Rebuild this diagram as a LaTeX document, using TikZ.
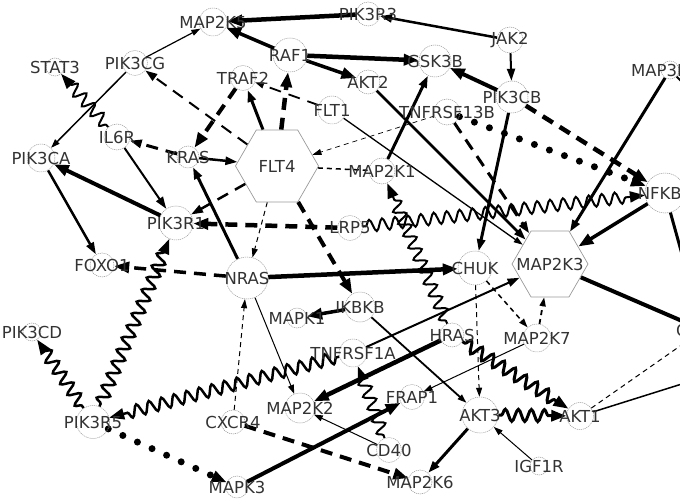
\documentclass[tikz,border=0pt]{standalone}
\usepackage{fontspec}
\setmainfont{DejaVu Sans}
\usetikzlibrary{arrows.meta,shapes.geometric,decorations.pathmorphing,backgrounds}
\begin{document}
\begin{tikzpicture}[x=1pt,y=-1pt,
  gn/.style={circle, draw=black!40, dash pattern=on 1.2pt off 0.8pt, line width=0.5pt, inner sep=0pt, minimum size=#1},
  hx/.style={regular polygon, regular polygon sides=6, draw=black!40, line width=0.7pt, inner sep=0pt, minimum size=#1},
  lbl/.style={text=black!80, font=\fontsize{16.5}{18}\selectfont, inner sep=0pt},
  w/.style={line width=#1},
  ta/.style={-{Triangle[length=9pt,width=6pt]}},
  tb/.style={-{Triangle[length=12pt,width=8pt]}},
  tc/.style={-{Triangle[length=15pt,width=11pt]}},
  dsh/.style={dash pattern=on 12pt off 8pt},
  dshs/.style={dash pattern=on 5pt off 4pt},
  bigdots/.style={line cap=round, dash pattern=on 0pt off 16pt},
  snk/.style={decorate, decoration={snake, amplitude=6pt, segment length=13pt, pre length=3pt, post length=13pt}}
]
\useasboundingbox (0,0) rectangle (680,500);

\node[gn=28pt, label={[lbl]center:MAP2K5}] (MAP2K5) at (213,22) {};
\node[gn=24pt, label={[lbl]center:PIK3R3}] (PIK3R3) at (368,14) {};
\node[gn=26pt, label={[lbl]center:JAK2}] (JAK2) at (510,40) {};
\node[gn=34pt, label={[lbl]center:RAF1}] (RAF1) at (290,55) {};
\node[gn=32pt, label={[lbl]center:GSK3B}] (GSK3B) at (435,61) {};
\node[gn=24pt, label={[lbl]center:AKT2}] (AKT2) at (368,82) {};
\node[gn=32pt, label={[lbl]center:PIK3CB}] (PIK3CB) at (512,97) {};
\node[gn=26pt, label={[lbl]center:TNFRSF13B}] (TNFRSF13B) at (447,112) {};
\node[gn=18pt, label={[lbl]center:MAP3K14}] (MAP3K14) at (670,70) {};
\node[gn=18pt, label={[lbl]center:STAT3}] (STAT3) at (55,67) {};
\node[gn=25pt, label={[lbl]center:PIK3CG}] (PIK3CG) at (135,63) {};
\node[gn=25pt, label={[lbl]center:TRAF2}] (TRAF2) at (243,78) {};
\node[gn=28pt, label={[lbl]center:FLT1}] (FLT1) at (332,110) {};
\node[gn=26pt, label={[lbl]center:IL6R}] (IL6R) at (117,137) {};
\node[gn=28pt, label={[lbl]center:PIK3CA}] (PIK3CA) at (41,158) {};
\node[gn=22pt, label={[lbl]center:KRAS}] (KRAS) at (188,157) {};
\node[hx=83pt, label={[lbl]center:FLT4}] (FLT4) at (277,166) {};
\node[gn=26pt, label={[lbl]center:MAP2K1}] (MAP2K1) at (382,171) {};
\node[gn=40pt, label={[lbl]center:NFKB1}] (NFKB1) at (665,193) {};
\node[gn=34pt, label={[lbl]center:PIK3R1}] (PIK3R1) at (176,223) {};
\node[gn=25pt, label={[lbl]center:LRP5}] (LRP5) at (350,228) {};
\node[hx=76pt, label={[lbl]center:MAP2K3}] (MAP2K3) at (550,264) {};
\node[gn=24pt, label={[lbl]center:FOXO1}] (FOXO1) at (102,265) {};
\node[gn=42pt, label={[lbl]center:NRAS}] (NRAS) at (247,278) {};
\node[gn=34pt, label={[lbl]center:CHUK}] (CHUK) at (475,268) {};
\node[gn=30pt, label={[lbl]center:IKBKB}] (IKBKB) at (360,307) {};
\node[gn=20pt, label={[lbl]center:MAPK1}] (MAPK1) at (297,318) {};
\node[gn=18pt, label={[lbl]center:PIK3CD}] (PIK3CD) at (32,332) {};
\node[gn=24pt, label={[lbl]center:HRAS}] (HRAS) at (452,335) {};
\node[gn=28pt, label={[lbl]center:MAP2K7}] (MAP2K7) at (537,338) {};
\node[gn=28pt, label={[lbl]center:TNFRSF1A}] (TNFRSF1A) at (353,353) {};
\node[gn=30pt, label={[lbl]center:MAP2K2}] (MAP2K2) at (300,408) {};
\node[gn=25pt, label={[lbl]center:FRAP1}] (FRAP1) at (412,397) {};
\node[gn=36pt, label={[lbl]center:AKT3}] (AKT3) at (480,415) {};
\node[gn=27pt, label={[lbl]center:AKT1}] (AKT1) at (580,416) {};
\node[gn=33pt, label={[lbl]center:PIK3R5}] (PIK3R5) at (93,422) {};
\node[gn=24pt, label={[lbl]center:CXCR4}] (CXCR4) at (233,422) {};
\node[gn=25pt, label={[lbl]center:CD40}] (CD40) at (389,450) {};
\node[gn=18pt, label={[lbl]center:IGF1R}] (IGF1R) at (539,466) {};
\node[gn=24pt, label={[lbl]center:MAP2K6}] (MAP2K6) at (420,482) {};
\node[gn=22pt, label={[lbl]center:MAPK3}] (MAPK3) at (237,487) {};
\node[gn=30pt, label={[lbl]center:CASP9}] (CASP9) at (703,330) {};
\coordinate (offA) at (700,100);
\coordinate (offB) at (720,372);

\begin{pgfonlayer}{background}
\draw[w=4.5pt, tc] (PIK3R3) -- (MAP2K5);
\draw[w=2.5pt, tb] (JAK2) -- (PIK3R3);
\draw[w=2pt, tb] (JAK2) -- (PIK3CB);
\draw[w=3.5pt, tc] (RAF1) -- (MAP2K5);
\draw[w=4.5pt, tc] (RAF1) -- (GSK3B);
\draw[w=3.5pt, tc] (RAF1) -- (AKT2);
\draw[w=1.2pt, ta] (PIK3CG) -- (MAP2K5);
\draw[w=1.5pt, ta] (PIK3CG) -- (PIK3CA);
\draw[w=2pt, snk, tc] (IL6R) -- (STAT3);
\draw[w=2pt, tb] (IL6R) -- (PIK3R1);
\draw[w=3pt, dsh, tb] (KRAS) -- (IL6R);
\draw[w=2.5pt, tb] (KRAS) -- (FLT4);
\draw[w=2pt, dsh, tb] (FLT4) -- (PIK3CG);
\draw[w=4pt, dsh, tc] (TRAF2) -- (KRAS);
\draw[w=3pt, tb] (FLT4) -- (TRAF2);
\draw[w=4.5pt, dsh, tc] (FLT4) -- (RAF1);
\draw[w=1.8pt, dsh, ta] (FLT1) -- (TRAF2);
\draw[w=2.5pt, dsh, tb] (FLT4) -- (PIK3R1);
\draw[w=4pt, tc] (PIK3R1) -- (PIK3CA);
\draw[w=2.5pt, tb] (PIK3CA) -- (FOXO1);
\draw[w=4.5pt, dsh, tc] (LRP5) -- (PIK3R1);
\draw[w=3pt, tb] (NRAS) -- (KRAS);
\draw[w=1pt, dshs, ta] (FLT4) -- (NRAS);
\draw[w=4pt, dsh, tc] (FLT4) -- (IKBKB);
\draw[w=1.5pt, dshs] (FLT4) -- (MAP2K1);
\draw[w=0.7pt, dshs, ta] (TNFRSF13B) -- (FLT4);
\draw[w=3pt, tb] (MAP2K1) -- (GSK3B);
\draw[w=2.5pt, tb] (AKT2) -- (MAP2K3);
\draw[w=1.3pt, ta] (FLT1) -- (MAP2K3);
\draw[w=4pt, tc] (PIK3CB) -- (GSK3B);
\draw[w=4.5pt, dsh, tc] (PIK3CB) -- (NFKB1);
\draw[w=7pt, bigdots, tc] (TNFRSF13B) -- (NFKB1);
\draw[w=3pt, dsh, tb] (TNFRSF13B) -- (MAP2K3);
\draw[w=3pt, tb] (PIK3CB) -- (CHUK);
\draw[w=3pt, tb] (MAP3K14) -- (MAP2K3);
\draw[w=3.5pt, tc] (NFKB1) -- (MAP2K3);
\draw[w=2pt, snk, tc] (LRP5) -- (NFKB1);
\draw[w=2pt, snk, tc] (HRAS) -- (MAP2K1);
\draw[w=4.5pt, tc] (NRAS) -- (CHUK);
\draw[w=2.5pt, snk, tc] (PIK3R5) -- (PIK3R1);
\draw[w=3.5pt, dsh, tc] (NRAS) -- (FOXO1);
\draw[w=2.5pt, snk, tc] (PIK3R5) -- (PIK3CD);
\draw[w=2.5pt, snk, tc] (TNFRSF1A) -- (PIK3R5);
\draw[w=7pt, bigdots, tc] (PIK3R5) -- (MAPK3);
\draw[w=1pt, dshs, ta] (CXCR4) -- (NRAS);
\draw[w=1pt, ta] (NRAS) -- (MAP2K2);
\draw[w=4pt, dsh, tc] (CXCR4) -- (MAP2K6);
\draw[w=4pt, tc] (MAPK3) -- (FRAP1);
\draw[w=3.5pt, tc] (IKBKB) -- (MAPK1);
\draw[w=1.8pt, ta] (IKBKB) -- (AKT3);
\draw[w=2pt, tb] (TNFRSF1A) -- (MAP2K3);
\draw[w=4.5pt, tc] (HRAS) -- (MAP2K2);
\draw[w=2pt, snk, tc] (CD40) -- (TNFRSF1A);
\draw[w=1pt, ta] (CD40) -- (MAP2K2);
\draw[w=1pt, ta] (MAP2K7) -- (FRAP1);
\draw[w=1.5pt, dshs, ta] (CHUK) -- (MAP2K7);
\draw[w=1.8pt, dshs, ta] (MAP2K7) -- (MAP2K3);
\draw[w=1pt, dshs, ta] (CHUK) -- (AKT3);
\draw[w=3pt, snk, tc] (HRAS) -- (AKT1);
\draw[w=3pt, snk, tc] (AKT3) -- (AKT1);
\draw[w=3pt, tb] (AKT3) -- (MAP2K6);
\draw[w=1pt, ta] (IGF1R) -- (AKT3);
\draw[w=4pt] (MAP2K3) -- (CASP9);
\draw[w=1pt, dshs] (AKT1) -- (CASP9);
\draw[w=1.5pt] (AKT1) -- (offB);
\draw[w=3pt] (NFKB1) -- (CASP9);
\draw[w=2pt] (MAP3K14) -- (offA);
\end{pgfonlayer}
\end{tikzpicture}
\end{document}
